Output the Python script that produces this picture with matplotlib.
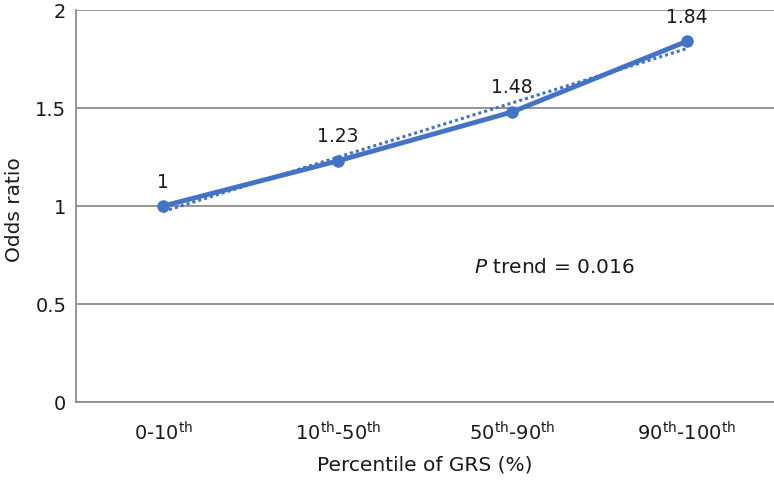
import numpy as np
import matplotlib
matplotlib.use("Agg")
import matplotlib.pyplot as plt

categories = [r"0-10$^{\mathrm{th}}$", r"10$^{\mathrm{th}}$-50$^{\mathrm{th}}$",
              r"50$^{\mathrm{th}}$-90$^{\mathrm{th}}$", r"90$^{\mathrm{th}}$-100$^{\mathrm{th}}$"]
odds = [1, 1.23, 1.48, 1.84]
labels = ["1", "1.23", "1.48", "1.84"]
yticks = [0, 0.5, 1, 1.5, 2]
ytick_labels = ["0", "0.5", "1", "1.5", "2"]

blue = "#4472C4"
grid = "#8c8c8c"

if __name__ == "__main__":
    plt.rcParams["font.family"] = "DejaVu Sans"
    plt.rcParams["mathtext.fontset"] = "dejavusans"

    fig = plt.figure(figsize=(7.74, 4.81), dpi=100)
    ax = fig.add_axes([76 / 774, 78 / 481, 698 / 774, 392 / 481])

    x = np.arange(len(odds)) + 0.5
    ax.plot(x, odds, color=blue, lw=3.5, marker="o", ms=8, solid_capstyle="round", zorder=3)

    # linear trend line
    k, b = np.polyfit(x, odds, 1)
    ax.plot(x[[0, -1]], k * x[[0, -1]] + b, color=blue, lw=2.2, ls=(0, (1, 1)), zorder=2)

    for xi, yi, t in zip(x, odds, labels):
        ax.annotate(t, (xi, yi), xytext=(0, 14), textcoords="offset points",
                    ha="center", va="baseline", fontsize=13.5, color="#1a1a1a")

    ax.text(2.74, 0.69, r"$P$ trend = 0.016", ha="center", va="center", fontsize=14.5, color="#1a1a1a")

    ax.set_xlim(0, 4)
    ax.set_ylim(0, 2)
    ax.set_xticks(x)
    ax.set_xticklabels(categories, fontsize=14)
    ax.set_yticks(yticks)
    ax.set_yticklabels(ytick_labels, fontsize=14)
    ax.tick_params(length=0, pad=7, colors="#1a1a1a")
    ax.tick_params(axis="x", pad=13)
    ax.yaxis.grid(True, color=grid, lw=1.3)
    ax.set_axisbelow(True)
    for s in ["top", "right"]:
        ax.spines[s].set_visible(False)
    for s in ["left", "bottom"]:
        ax.spines[s].set_color(grid)
        ax.spines[s].set_linewidth(1.3)

    ax.set_xlabel("Percentile of GRS (%)", fontsize=14.5, color="#1a1a1a", labelpad=8)
    fig.text(15 / 774, 1 - 210 / 481, "Odds ratio", rotation=90, ha="center", va="center",
             fontsize=14.5, color="#1a1a1a")

    plt.savefig("out.png", dpi=100)
